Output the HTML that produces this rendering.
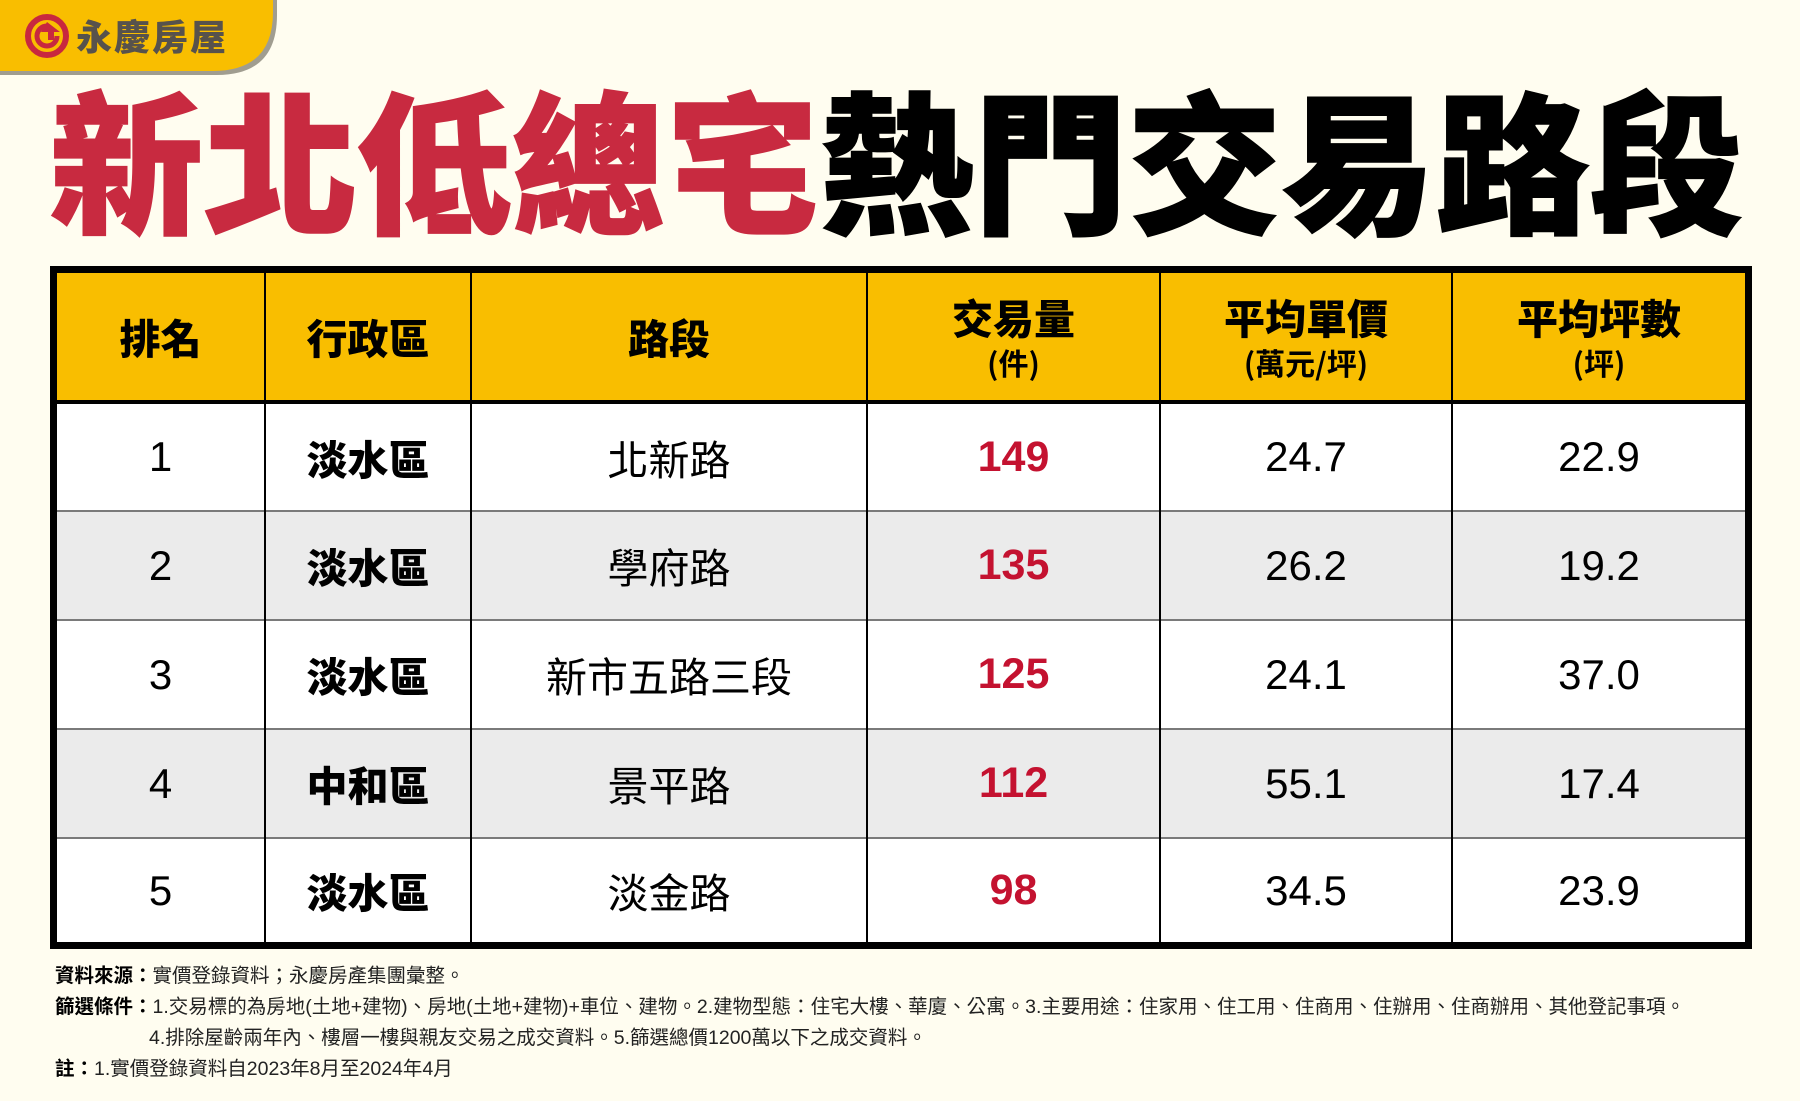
<!DOCTYPE html>
<html>
<head>
<meta charset="utf-8">
<style>
  html, body { margin:0; padding:0; }
  body { width:1800px; height:1101px; background:#fffdf0; position:relative; overflow:hidden;
         font-family:"Liberation Sans","Noto Sans CJK TC",sans-serif; }
  .abs { position:absolute; }
  .title { position:absolute; left:50px; top:80px; font-family:"Noto Sans CJK TC","Noto Sans CJK SC",sans-serif;
           font-weight:900; font-size:153px; line-height:1; white-space:nowrap; letter-spacing:1px; }
  .title .r { color:#c82a40; -webkit-text-stroke:2px #c82a40; }
  .title .k { color:#000; -webkit-text-stroke:2px #000; }
  .cell { position:absolute; display:flex; align-items:center; justify-content:center; line-height:1; }
  .hd { font-family:"Noto Sans CJK TC",sans-serif; font-weight:900; font-size:41px; color:#000; flex-direction:column; }
  .hd .sub { font-weight:700; font-size:30px; margin-top:10px; }
  .dist { font-family:"Noto Sans CJK TC",sans-serif; font-weight:900; font-size:41px; color:#000; }
  .road { font-family:"Noto Sans CJK TC",sans-serif; font-weight:400; font-size:41px; color:#000; }
  .num { font-family:"Liberation Sans",sans-serif; font-size:42px; color:#000; }
  .red { font-family:"Liberation Sans",sans-serif; font-weight:700; font-size:43px; color:#c41230; }
  .vline { position:absolute; top:273px; width:2px; height:669px; background:#000; }
  .hline { position:absolute; left:57px; width:1688px; height:2px; background:#7a7a7a; }
  .foot { position:absolute; left:55px; font-family:"Liberation Sans","Noto Sans CJK TC",sans-serif; font-size:19.5px; color:#222; line-height:1; white-space:nowrap; }
  .foot b { color:#000; font-weight:700; }
</style>
</head>
<body>

<!-- logo tab -->
<svg class="abs" style="left:0;top:0" width="290" height="90" viewBox="0 0 290 90">
  <path d="M0 0 H277 V15 Q277 75 217 75 H0 Z" fill="#a09d90"/>
  <path d="M0 0 H273 V12 Q273 71 213 71 H0 Z" fill="#f9be00"/>
  <circle cx="47" cy="36" r="19" fill="none" stroke="#c8283f" stroke-width="6"/>
  <path d="M47 26 A10 10 0 1 0 57 36" fill="none" stroke="#c8283f" stroke-width="5"/>
  <polygon points="47,22 60,32 54,32 54,40 48,40 48,32 41,32" fill="#c8283f"/>
</svg>
<div class="abs" style="left:76px;top:17px;font-family:'Noto Sans CJK TC',sans-serif;font-weight:900;font-size:36px;line-height:1;color:#57524c;letter-spacing:2px;white-space:nowrap;">永慶房屋</div>

<!-- title -->
<div class="title"><span class="r">新北低總宅</span><span class="k">熱門交易路段</span></div>

<!-- table -->
<div class="abs" style="left:50px;top:266px;width:1702px;height:683px;background:#000;"></div>
<div class="abs" style="left:57px;top:273px;width:1688px;height:127px;background:#f9be00;"></div>
<div class="abs" style="left:57px;top:400px;width:1688px;height:4px;background:#000;"></div>
<div class="abs" style="left:57px;top:404px;width:1688px;height:106px;background:#fff;"></div>
<div class="abs" style="left:57px;top:512px;width:1688px;height:107px;background:#ebebeb;"></div>
<div class="abs" style="left:57px;top:621px;width:1688px;height:107px;background:#fff;"></div>
<div class="abs" style="left:57px;top:730px;width:1688px;height:107px;background:#ebebeb;"></div>
<div class="abs" style="left:57px;top:839px;width:1688px;height:103px;background:#fff;"></div>
<div class="hline" style="top:510px"></div>
<div class="hline" style="top:619px"></div>
<div class="hline" style="top:728px"></div>
<div class="hline" style="top:837px"></div>
<div class="vline" style="left:264px"></div>
<div class="vline" style="left:470px"></div>
<div class="vline" style="left:866px"></div>
<div class="vline" style="left:1159px"></div>
<div class="vline" style="left:1451px"></div>

<!-- header -->
<div class="cell hd" style="left:57px;top:273px;width:207px;height:127px;">排名</div>
<div class="cell hd" style="left:266px;top:273px;width:204px;height:127px;">行政區</div>
<div class="cell hd" style="left:472px;top:273px;width:394px;height:127px;">路段</div>
<div class="cell hd" style="left:868px;top:273px;width:291px;height:127px;"><div>交易量</div><div class="sub">(件)</div></div>
<div class="cell hd" style="left:1161px;top:273px;width:290px;height:127px;"><div>平均單價</div><div class="sub">(萬元/坪)</div></div>
<div class="cell hd" style="left:1453px;top:273px;width:292px;height:127px;"><div>平均坪數</div><div class="sub">(坪)</div></div>

<!-- rows -->
<div class="cell num"  style="left:57px;top:404px;width:207px;height:106px;">1</div>
<div class="cell dist" style="left:266px;top:404px;width:204px;height:106px;">淡水區</div>
<div class="cell road" style="left:472px;top:404px;width:394px;height:106px;">北新路</div>
<div class="cell red"  style="left:868px;top:404px;width:291px;height:106px;">149</div>
<div class="cell num"  style="left:1161px;top:404px;width:290px;height:106px;">24.7</div>
<div class="cell num"  style="left:1453px;top:404px;width:292px;height:106px;">22.9</div>

<div class="cell num"  style="left:57px;top:512px;width:207px;height:107px;">2</div>
<div class="cell dist" style="left:266px;top:512px;width:204px;height:107px;">淡水區</div>
<div class="cell road" style="left:472px;top:512px;width:394px;height:107px;">學府路</div>
<div class="cell red"  style="left:868px;top:512px;width:291px;height:107px;">135</div>
<div class="cell num"  style="left:1161px;top:512px;width:290px;height:107px;">26.2</div>
<div class="cell num"  style="left:1453px;top:512px;width:292px;height:107px;">19.2</div>

<div class="cell num"  style="left:57px;top:621px;width:207px;height:107px;">3</div>
<div class="cell dist" style="left:266px;top:621px;width:204px;height:107px;">淡水區</div>
<div class="cell road" style="left:472px;top:621px;width:394px;height:107px;">新市五路三段</div>
<div class="cell red"  style="left:868px;top:621px;width:291px;height:107px;">125</div>
<div class="cell num"  style="left:1161px;top:621px;width:290px;height:107px;">24.1</div>
<div class="cell num"  style="left:1453px;top:621px;width:292px;height:107px;">37.0</div>

<div class="cell num"  style="left:57px;top:730px;width:207px;height:107px;">4</div>
<div class="cell dist" style="left:266px;top:730px;width:204px;height:107px;">中和區</div>
<div class="cell road" style="left:472px;top:730px;width:394px;height:107px;">景平路</div>
<div class="cell red"  style="left:868px;top:730px;width:291px;height:107px;">112</div>
<div class="cell num"  style="left:1161px;top:730px;width:290px;height:107px;">55.1</div>
<div class="cell num"  style="left:1453px;top:730px;width:292px;height:107px;">17.4</div>

<div class="cell num"  style="left:57px;top:839px;width:207px;height:103px;">5</div>
<div class="cell dist" style="left:266px;top:839px;width:204px;height:103px;">淡水區</div>
<div class="cell road" style="left:472px;top:839px;width:394px;height:103px;">淡金路</div>
<div class="cell red"  style="left:868px;top:839px;width:291px;height:103px;">98</div>
<div class="cell num"  style="left:1161px;top:839px;width:290px;height:103px;">34.5</div>
<div class="cell num"  style="left:1453px;top:839px;width:292px;height:103px;">23.9</div>

<!-- footnotes -->
<div class="foot" style="top:967px;"><b>資料來源：</b>實價登錄資料；永慶房產集團彙整。</div>
<div class="foot" style="top:998px;"><b>篩選條件：</b>1.交易標的為房地(土地+建物)、房地(土地+建物)+車位、建物。2.建物型態：住宅大樓、華廈、公寓。3.主要用途：住家用、住工用、住商用、住辦用、住商辦用、其他登記事項。</div>
<div class="foot" style="top:1029px;left:149px;">4.排除屋齡兩年內、樓層一樓與親友交易之成交資料。5.篩選總價1200萬以下之成交資料。</div>
<div class="foot" style="top:1060px;"><b>註：</b>1.實價登錄資料自2023年8月至2024年4月</div>

</body>
</html>
